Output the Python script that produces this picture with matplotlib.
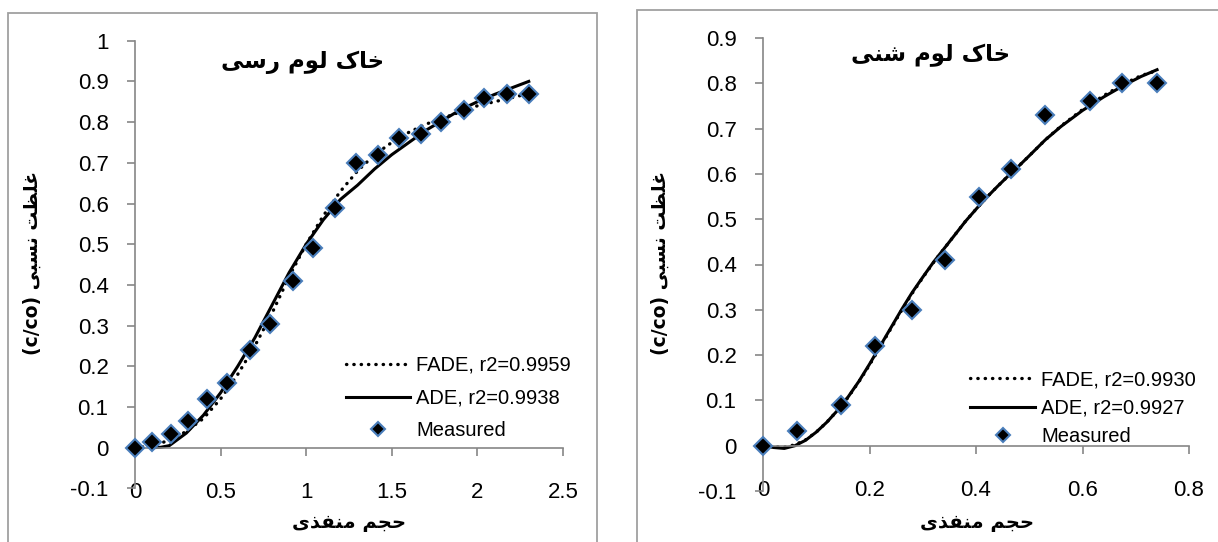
import matplotlib
matplotlib.use("Agg")
import matplotlib.pyplot as plt
from matplotlib.patches import Rectangle

# ---- data ----
# clay loam (left)
clay_x = [0, 0.10, 0.21, 0.31, 0.42, 0.54, 0.67, 0.79, 0.92, 1.04,
          1.17, 1.29, 1.42, 1.54, 1.67, 1.79, 1.92, 2.04, 2.17, 2.30]
clay_y = [0, 0.015, 0.033, 0.066, 0.12, 0.16, 0.24, 0.305, 0.41, 0.49,
          0.59, 0.70, 0.72, 0.76, 0.77, 0.80, 0.83, 0.86, 0.87, 0.87]
clay_fit_x = [0, 0.1, 0.2, 0.3, 0.4, 0.5, 0.6, 0.7, 0.8, 0.9, 1.0, 1.1,
              1.2, 1.3, 1.4, 1.5, 1.6, 1.7, 1.8, 1.9, 2.0, 2.1, 2.2, 2.3]
clay_fade = [0, 0.005, 0.018, 0.04, 0.072, 0.12, 0.18, 0.25, 0.33, 0.42, 0.50, 0.57,
             0.63, 0.68, 0.72, 0.75, 0.775, 0.795, 0.81, 0.825, 0.84, 0.85, 0.86, 0.87]
clay_ade_x = [0.1, 0.15, 0.2, 0.3, 0.4, 0.5, 0.6, 0.7, 0.8, 0.9, 1.0, 1.1,
              1.2, 1.3, 1.4, 1.5, 1.6, 1.7, 1.8, 1.9, 2.0, 2.1, 2.2, 2.3]
clay_ade = [0, 0.001, 0.005, 0.036, 0.08, 0.135, 0.2, 0.27, 0.35, 0.43, 0.50, 0.56,
            0.61, 0.645, 0.685, 0.72, 0.75, 0.78, 0.805, 0.83, 0.85, 0.868, 0.884, 0.90]

# sandy loam (right)
sand_x = [0, 0.063, 0.146, 0.21, 0.28, 0.341, 0.405, 0.466, 0.53, 0.614, 0.675, 0.739]
sand_y = [0, 0.032, 0.09, 0.22, 0.30, 0.41, 0.55, 0.61, 0.73, 0.76, 0.80, 0.80]
sand_fit_x = [0, 0.02, 0.04, 0.06, 0.08, 0.1, 0.12, 0.14, 0.16, 0.18, 0.2, 0.22,
              0.24, 0.26, 0.28, 0.3, 0.32, 0.34, 0.36, 0.38, 0.4, 0.42, 0.44, 0.46,
              0.48, 0.5, 0.53, 0.56, 0.6, 0.64, 0.68, 0.71, 0.74]
sand_ade = [0, -0.004, -0.006, 0.0, 0.012, 0.03, 0.052, 0.078, 0.108, 0.142, 0.18, 0.22,
            0.26, 0.30, 0.338, 0.372, 0.405, 0.435, 0.465, 0.495, 0.522, 0.548, 0.572, 0.595,
            0.617, 0.64, 0.675, 0.705, 0.74, 0.77, 0.797, 0.815, 0.83]
sand_fade = [0, -0.002, -0.003, 0.002, 0.013, 0.03, 0.052, 0.078, 0.107, 0.141, 0.178, 0.218,
             0.258, 0.298, 0.336, 0.371, 0.404, 0.435, 0.465, 0.495, 0.522, 0.548, 0.572, 0.595,
             0.617, 0.64, 0.675, 0.706, 0.742, 0.773, 0.80, 0.817, 0.828]

clay_labels = ["FADE, r2=0.9959", "ADE, r2=0.9938", "Measured"]
sand_labels = ["FADE, r2=0.9930", "ADE, r2=0.9927", "Measured"]

title_clay = "خاک لوم رسی"
title_sand = "خاک لوم شنی"
xlab = "حجم منفذی"
ylab = "غلظت نسبی"

# simple Persian shaping (presentation forms) since matplotlib has no complex layout
FORMS = {
    'ا': ('\ufe8d', '\ufe8e', None, None),
    'خ': ('\ufea5', '\ufea6', '\ufea7', '\ufea8'),
    'ک': ('\ufb8e', '\ufb8f', '\ufb90', '\ufb91'),
    'ل': ('\ufedd', '\ufede', '\ufedf', '\ufee0'),
    'و': ('\ufeed', '\ufeee', None, None),
    'م': ('\ufee1', '\ufee2', '\ufee3', '\ufee4'),
    'ر': ('\ufead', '\ufeae', None, None),
    'س': ('\ufeb1', '\ufeb2', '\ufeb3', '\ufeb4'),
    'ی': ('\ufeef', '\ufef0', '\ufbfe', '\ufbff'),
    'ش': ('\ufeb5', '\ufeb6', '\ufeb7', '\ufeb8'),
    'ن': ('\ufee5', '\ufee6', '\ufee7', '\ufee8'),
    'غ': ('\ufecd', '\ufece', '\ufecf', '\ufed0'),
    'ظ': ('\ufec5', '\ufec6', '\ufec7', '\ufec8'),
    'ت': ('\ufe95', '\ufe96', '\ufe97', '\ufe98'),
    'ب': ('\ufe8f', '\ufe90', '\ufe91', '\ufe92'),
    'ح': ('\ufea1', '\ufea2', '\ufea3', '\ufea4'),
    'ج': ('\ufe9d', '\ufe9e', '\ufe9f', '\ufea0'),
    'ف': ('\ufed1', '\ufed2', '\ufed3', '\ufed4'),
    'ذ': ('\ufeab', '\ufeac', None, None),
}


def rtl(text):
    out = []
    for i, ch in enumerate(text):
        if ch not in FORMS:
            out.append(ch)
            continue
        prev = text[i - 1] if i > 0 else ''
        nxt = text[i + 1] if i + 1 < len(text) else ''
        jp = prev in FORMS and FORMS[prev][2] is not None
        jn = nxt in FORMS and FORMS[ch][2] is not None
        iso, fin, ini, med = FORMS[ch]
        if jp and jn:
            out.append(med)
        elif jp:
            out.append(fin)
        elif jn:
            out.append(ini)
        else:
            out.append(iso)
    return ''.join(out)[::-1]


W, H = 1218, 542
fig = plt.figure(figsize=(W / 100, H / 100), dpi=100)

grey = '#868686'
edge_blue = '#4a7ebb'
tick_font = 'Liberation Sans'
ar_font = ['DejaVu Sans']

# panel borders
fig.add_artist(Rectangle((8 / W, -0.05), 589 / W, 1.05 - 13 / H, transform=fig.transFigure,
                         fill=False, edgecolor='#a0a0a0', lw=1.3))
fig.add_artist(Rectangle((637 / W, -0.05), 0.6, 1.05 - 10 / H, transform=fig.transFigure,
                         fill=False, edgecolor='#a0a0a0', lw=1.3))


def setup(ax, xlim, ylim, xticks, yticks):
    ax.set_xlim(*xlim)
    ax.set_ylim(*ylim)
    for s in ['top', 'right']:
        ax.spines[s].set_visible(False)
    ax.spines['left'].set_position(('data', 0))
    ax.spines['bottom'].set_position(('data', 0))
    for s in ['left', 'bottom']:
        ax.spines[s].set_color(grey)
        ax.spines[s].set_linewidth(1.2)
    ax.set_xticks(xticks)
    ax.set_yticks(yticks)
    ax.set_xticklabels([f'{v:g}' for v in xticks], fontname=tick_font, fontsize=16)
    ax.set_yticklabels([f'{v:g}' for v in yticks], fontname=tick_font, fontsize=16)
    ax.tick_params(axis='y', direction='out', length=6, width=1.2, color=grey, pad=13)
    ax.tick_params(axis='x', direction='out', length=6, width=1.2, color=grey, pad=19)
    ax.patch.set_visible(False)


def draw(ax, fx, fade, ax_x, ade, mx, my, labels):
    ax.plot(fx, fade, color='black', lw=2.4, ls=(0, (0.1, 2.1)), dash_capstyle='round',
            label=labels[0])
    ax.plot(ax_x, ade, color='black', lw=2.2, label=labels[1])
    ax.plot(mx, my, ls='none', marker='D', ms=9, mfc='black', mec=edge_blue, mew=1.5,
            label=labels[2], clip_on=False, zorder=5)


ax1 = fig.add_axes([135 / W, 1 - 488.4 / H, 428 / W, 447.7 / H])
setup(ax1, (0, 2.5), (-0.1, 1.0), [0, 0.5, 1, 1.5, 2, 2.5],
      [-0.1, 0, 0.1, 0.2, 0.3, 0.4, 0.5, 0.6, 0.7, 0.8, 0.9, 1])
draw(ax1, clay_fit_x, clay_fade, clay_ade_x, clay_ade, clay_x, clay_y, clay_labels)

ax2 = fig.add_axes([763 / W, 1 - 491 / H, 426 / W, 453 / H])
setup(ax2, (0, 0.8), (-0.1, 0.9), [0, 0.2, 0.4, 0.6, 0.8],
      [-0.1, 0, 0.1, 0.2, 0.3, 0.4, 0.5, 0.6, 0.7, 0.8, 0.9])
draw(ax2, sand_fit_x, sand_fade, sand_fit_x, sand_ade, sand_x, sand_y, sand_labels)

for ax, anchor, spacing in [(ax1, (0.493, 0.296), 0.68), (ax2, (0.487, 0.266), 0.46)]:
    ax.legend(loc='upper left', bbox_to_anchor=anchor, frameon=False, borderpad=0,
              borderaxespad=0, handlelength=3.2, handletextpad=0.3,
              labelspacing=spacing, markerscale=0.8,
              prop={'family': tick_font, 'size': 14.5})

# titles and axis labels (Persian)
fig.text(303 / W, 1 - 62 / H, rtl(title_clay), family=ar_font, fontsize=16.5,
         fontweight='bold', ha='center', va='center')
fig.text(931 / W, 1 - 55 / H, rtl(title_sand), family=ar_font, fontsize=16.5,
         fontweight='bold', ha='center', va='center')
for xc in (349, 977):
    fig.text(xc / W, 1 - 523 / H, rtl(xlab), family=ar_font, fontsize=14,
             fontweight='bold', ha='center', va='center')
for xc in (32, 660):
    fig.text(xc / W, 1 - 263 / H, '(c/co) ' + rtl(ylab), family=ar_font, fontsize=13.5,
             fontweight='bold', ha='center', va='center', rotation=90)

fig.savefig('out.png', dpi=100)
